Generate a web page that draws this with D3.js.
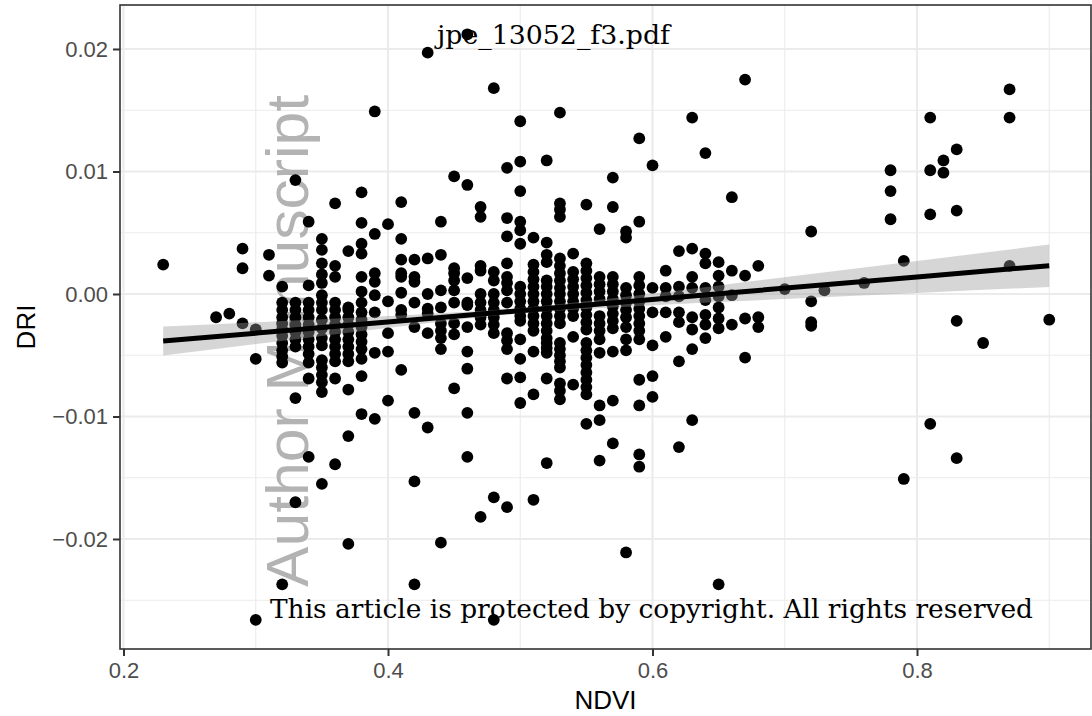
<!DOCTYPE html>
<html>
<head>
<meta charset="utf-8">
<script src="https://cdn.jsdelivr.net/npm/d3@7"></script>
<style>
  html, body { margin: 0; padding: 0; background: #fff; }
  svg { display: block; }
</style>
</head>
<body>
<div id="chart-container"></div>
<script>
// NDVI levels (the x values are rounded to 0.01 in the source data)
const ndviLevels = [
  0.23, 0.27, 0.28, 0.29, 0.30, 0.31, 0.32, 0.33, 0.34, 0.35,
  0.36, 0.37, 0.38, 0.39, 0.40, 0.41, 0.42, 0.43, 0.44, 0.45,
  0.46, 0.47, 0.48, 0.49, 0.50, 0.51, 0.52, 0.53, 0.54, 0.55,
  0.56, 0.57, 0.58, 0.59, 0.60, 0.61, 0.62, 0.63, 0.64, 0.65,
  0.66, 0.67, 0.68, 0.70, 0.72, 0.73, 0.76, 0.78, 0.79, 0.81,
  0.82, 0.83, 0.85, 0.87, 0.90
];

// DRI values for each NDVI level, in units of 1e-4
const driByLevel = [
  [24],
  [-19],
  [-16],
  [37, 21, -24],
  [-29, -53, -266],
  [32, 15],
  [6, -7, -13, -19, -24, -29, -34, -40, -46, -51, -56, -237],
  [93, -7, -13, -19, -25, -31, -37, -43, -85, -170],
  [59, 7, -7, -13, -19, -25, -31, -37, -43, -49, -56, -69, -133],
  [45, 36, 25, 16, 9, -1, -7, -13, -21, -28, -36, -42, -54, -60, -66, -72, -80, -155],
  [74, 23, 14, -7, -13, -19, -25, -31, -37, -43, -49, -55, -69, -139],
  [35, -11, -13, -19, -25, -31, -37, -43, -49, -55, -78, -116, -204],
  [83, 58, 41, 33, 14, 2, -7, -15, -21, -27, -33, -39, -45, -53, -67, -98],
  [149, 49, 17, 10, -1, -15, -48, -102],
  [57, -6, -32, -47, -87],
  [75, 45, 28, 17, 14, 1, -13, -17, -62],
  [28, 14, 10, -7, -27, -97, -153, -237],
  [197, 29, 0, -12, -16, -32, -109],
  [59, 32, 3, -11, -24, -30, -36, -45, -203],
  [96, 21, 17, 11, 3, -7, -24, -33, -77],
  [212, 89, 13, -7, -9, -27, -47, -61, -97, -133],
  [71, 63, 23, 19, 0, -7, -13, -19, -25, -182],
  [168, 18, 11, 0, -7, -13, -19, -25, -32, -166, -266],
  [103, 62, 47, 25, 14, 9, 3, -7, -32, -38, -45, -69, -174],
  [141, 108, 84, 59, 52, 41, 6, 0, -6, -12, -18, -22, -37, -53, -68, -89],
  [46, 24, 18, 12, 6, 0, -6, -12, -18, -24, -30, -47, -82, -168],
  [109, 42, 32, 26, 11, 6, 0, -6, -12, -18, -24, -30, -36, -40, -44, -48, -69, -138],
  [148, 74, 69, 63, 29, 23, 17, 11, 5, 0, -6, -12, -18, -24, -40, -45, -50, -55, -60, -73, -79, -86],
  [33, 18, 12, 6, 0, -6, -12, -18, -35, -74],
  [73, 25, 19, 13, 7, 1, -5, -11, -17, -23, -29, -40, -46, -52, -58, -64, -70, -76, -82, -106],
  [53, 14, 8, 2, -4, -18, -24, -30, -37, -48, -91, -103, -136],
  [95, 71, 14, 8, 2, -4, -10, -16, -22, -28, -47, -87, -122],
  [51, 46, 5, -1, -7, -13, -19, -27, -37, -46, -211],
  [127, 59, 14, 7, 0, -6, -12, -18, -24, -30, -37, -70, -91, -131, -141],
  [105, 5, -15, -42, -67, -84],
  [19, 5, -2, -15, -35],
  [35, 6, -2, -15, -23, -55, -125],
  [144, 37, 14, 5, -19, -29, -45, -103],
  [115, 33, 25, 5, -5, -17, -25, -36],
  [26, 15, 6, -2, -11, -20, -28, -237],
  [79, 19, -1, -25],
  [175, 15, -20, -52],
  [23, -19, -27],
  [4],
  [51, -6, -23, -26],
  [3],
  [9],
  [101, 84, 61],
  [27, -151],
  [144, 101, 65, -106],
  [109, 99],
  [118, 68, -22, -134],
  [-40],
  [167, 144, 23],
  [-21]
];

// linear fit and its 95% band
const fitNdvi = [0.23, 0.35, 0.42, 0.50, 0.58, 0.65, 0.80, 0.90];
const fitDri = [-0.00384, -0.00274, -0.00210, -0.00136, -0.00063, 0.00002, 0.00139, 0.00231];
const bandLow = [-0.00502, -0.00342, -0.00251, -0.00158, -0.00104, -0.00066, 0.00009, 0.00058];
const bandHigh = [-0.00266, -0.00206, -0.00169, -0.00114, -0.00022, 0.00070, 0.00269, 0.00404];

const xTicks = [0.2, 0.4, 0.6, 0.8];
const xMinor = [0.3, 0.5, 0.7, 0.9];
const yTicks = [-0.02, -0.01, 0, 0.01, 0.02];
const yMinor = [-0.025, -0.015, -0.005, 0.005, 0.015];

const width = 1092;
const height = 716;
const marginTop = 5;
const marginRight = 1;
const marginBottom = 67;
const marginLeft = 120;

const points = ndviLevels.flatMap((v, i) =>
  driByLevel[i].map((d) => ({ ndvi: v, dri: d * 1e-4 }))
);
const fit = fitNdvi.map((v, i) => ({
  ndvi: v, dri: fitDri[i], lo: bandLow[i], hi: bandHigh[i]
}));

const x = d3.scaleLinear([0.19735, 0.93157], [marginLeft, width - marginRight]);
const y = d3.scaleLinear([-0.02898, 0.02359], [height - marginBottom, marginTop]);

const formatY = (d) => d3.format(".2f")(d).replace("-", "\u2212");

const svg = d3
  .select("#chart-container")
  .append("svg")
  .attr("width", width)
  .attr("height", height)
  .attr("viewBox", [0, 0, width, height]);

// panel grid
const grid = svg.append("g");
grid.selectAll(".xminor")
  .data(xMinor)
  .join("line")
  .attr("x1", x).attr("x2", x)
  .attr("y1", marginTop).attr("y2", height - marginBottom)
  .attr("stroke", "#ebebeb").attr("stroke-width", 1.1);
grid.selectAll(".yminor")
  .data(yMinor)
  .join("line")
  .attr("y1", y).attr("y2", y)
  .attr("x1", marginLeft).attr("x2", width - marginRight)
  .attr("stroke", "#ebebeb").attr("stroke-width", 1.1);
grid.append("g")
  .selectAll("line")
  .data(xTicks)
  .join("line")
  .attr("x1", x).attr("x2", x)
  .attr("y1", marginTop).attr("y2", height - marginBottom)
  .attr("stroke", "#ebebeb").attr("stroke-width", 2.1);
grid.append("g")
  .selectAll("line")
  .data(yTicks)
  .join("line")
  .attr("y1", y).attr("y2", y)
  .attr("x1", marginLeft).attr("x2", width - marginRight)
  .attr("stroke", "#ebebeb").attr("stroke-width", 2.1);

// watermark sits under the marks
svg.append("text")
  .attr("transform", `translate(308,587) rotate(-90)`)
  .attr("font-family", "Liberation Sans, Arial, sans-serif")
  .attr("font-size", 60)
  .attr("fill", "#b3b3b3")
  .attr("textLength", 492)
  .attr("lengthAdjust", "spacingAndGlyphs")
  .text("Author Manuscript");

// points
svg.append("g")
  .selectAll("circle")
  .data(points)
  .join("circle")
  .attr("cx", (d) => x(d.ndvi))
  .attr("cy", (d) => y(d.dri))
  .attr("r", 5.9)
  .attr("fill", "#000");

// confidence band then fitted line
svg.append("path")
  .datum(fit)
  .attr("fill", "#999999")
  .attr("fill-opacity", 0.4)
  .attr("d", d3.area()
    .x((d) => x(d.ndvi))
    .y0((d) => y(d.lo))
    .y1((d) => y(d.hi))
    .curve(d3.curveMonotoneX));

svg.append("path")
  .datum(fit)
  .attr("fill", "none")
  .attr("stroke", "#000")
  .attr("stroke-width", 5)
  .attr("d", d3.line()
    .x((d) => x(d.ndvi))
    .y((d) => y(d.dri)));

// panel border
svg.append("rect")
  .attr("x", marginLeft)
  .attr("y", marginTop)
  .attr("width", width - marginRight - marginLeft)
  .attr("height", height - marginBottom - marginTop)
  .attr("fill", "none")
  .attr("stroke", "#333333")
  .attr("stroke-width", 1.6);

// axes
const xAxis = svg.append("g")
  .attr("transform", `translate(0,${height - marginBottom})`)
  .call(d3.axisBottom(x).tickValues(xTicks).tickFormat(d3.format(".1f")).tickSizeOuter(0).tickSize(7).tickPadding(6));
const yAxis = svg.append("g")
  .attr("transform", `translate(${marginLeft},0)`)
  .call(d3.axisLeft(y).tickValues(yTicks).tickFormat(formatY).tickSizeOuter(0).tickSize(7).tickPadding(5));

for (const g of [xAxis, yAxis]) {
  g.select(".domain").remove();
  g.selectAll(".tick line").attr("stroke", "#333333").attr("stroke-width", 2);
  g.selectAll(".tick text")
    .attr("fill", "#4d4d4d")
    .attr("font-family", "Liberation Sans, Arial, sans-serif")
    .attr("font-size", 22);
}

svg.append("text")
  .attr("x", (marginLeft + width - marginRight) / 2)
  .attr("y", 709)
  .attr("text-anchor", "middle")
  .attr("font-family", "Liberation Sans, Arial, sans-serif")
  .attr("font-size", 26)
  .text("NDVI");

svg.append("text")
  .attr("transform", `translate(35,${(marginTop + height - marginBottom) / 2}) rotate(-90)`)
  .attr("text-anchor", "middle")
  .attr("font-family", "Liberation Sans, Arial, sans-serif")
  .attr("font-size", 26)
  .text("DRI");

// stamped overlay texts
svg.append("text")
  .attr("x", 437)
  .attr("y", 44)
  .attr("font-family", "DejaVu Serif, serif")
  .attr("font-size", 26)
  .attr("textLength", 233)
  .attr("lengthAdjust", "spacingAndGlyphs")
  .attr("fill", "#000")
  .text("jpe_13052_f3.pdf");

svg.append("text")
  .attr("x", 270)
  .attr("y", 618)
  .attr("font-family", "DejaVu Serif, serif")
  .attr("font-size", 26)
  .attr("textLength", 763)
  .attr("lengthAdjust", "spacingAndGlyphs")
  .attr("fill", "#000")
  .text("This article is protected by copyright. All rights reserved");
</script>
</body>
</html>
